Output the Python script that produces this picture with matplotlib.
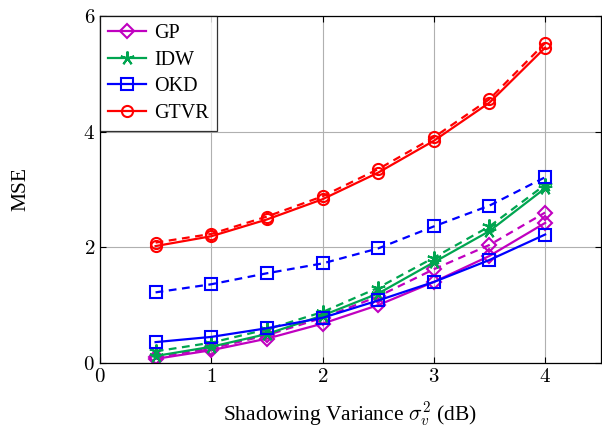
import numpy as np
import matplotlib
matplotlib.use('Agg')
import matplotlib.pyplot as plt

plt.rcParams['font.family'] = ['Liberation Serif', 'DejaVu Serif']
plt.rcParams['mathtext.fontset'] = 'cm'

x = [0.5, 1.0, 1.5, 2.0, 2.5, 3.0, 3.5, 4.0]

gp_solid = [0.07, 0.22, 0.42, 0.68, 1.00, 1.40, 1.85, 2.42]
gp_dash = [0.10, 0.25, 0.48, 0.78, 1.15, 1.62, 2.04, 2.60]
idw_solid = [0.12, 0.28, 0.50, 0.82, 1.20, 1.74, 2.28, 3.02]
idw_dash = [0.20, 0.35, 0.58, 0.88, 1.30, 1.82, 2.36, 3.08]
okd_solid = [0.36, 0.45, 0.60, 0.78, 1.08, 1.40, 1.78, 2.22]
okd_dash = [1.22, 1.36, 1.55, 1.72, 1.98, 2.36, 2.72, 3.21]
gtvr_solid = [2.02, 2.19, 2.48, 2.83, 3.29, 3.84, 4.50, 5.45]
gtvr_dash = [2.08, 2.23, 2.53, 2.88, 3.35, 3.90, 4.56, 5.53]

xticks = [0, 1, 2, 3, 4]
yticks = [0, 2, 4, 6]

series = [
    ('GP', gp_solid, gp_dash, '#C000C0', 'D', 7),
    ('IDW', idw_solid, idw_dash, '#00A550', (5, 2, 0), 10),
    ('OKD', okd_solid, okd_dash, '#0000FF', 's', 8),
    ('GTVR', gtvr_solid, gtvr_dash, '#FF0000', 'o', 8),
]

fig = plt.figure(figsize=(6.02, 4.28), dpi=100)
ax = fig.add_axes([0.166, 0.152, 0.832, 0.811])

for name, ys, yd, c, m, ms in series:
    ax.plot(x, ys, '-', color=c, lw=1.6, marker=m, ms=ms, mfc='none',
            mec=c, mew=1.5, label=name)
    ax.plot(x, yd, '--', color=c, lw=1.6, marker=m, ms=ms, mfc='none',
            mec=c, mew=1.5, dashes=(3.5, 2.5))

ax.set_xlim(0, 4.5)
ax.set_ylim(0, 6)
ax.set_xticks(xticks)
ax.set_xticklabels(['$%d$' % t for t in xticks])
ax.set_yticks(yticks)
ax.set_yticklabels(['$%d$' % t for t in yticks])
ax.grid(True, color='#b0b0b0', lw=0.8)
ax.set_axisbelow(True)
ax.tick_params(direction='in', top=True, right=True, labelsize=15, length=4)
for s in ax.spines.values():
    s.set_linewidth(0.9)

ax.set_xlabel(r'Shadowing Variance $\sigma_v^2$ (dB)', fontsize=15.5, labelpad=9)
ax.set_ylabel('MSE', fontsize=15.5, labelpad=38)

leg = ax.legend(loc='upper left', fontsize=14.5, frameon=True, fancybox=False,
                edgecolor='black', borderaxespad=0, handlelength=1.9,
                handletextpad=0.4, borderpad=0.4, labelspacing=0.38)
leg.get_frame().set_linewidth(0.9)

fig.savefig('out.png', dpi=100)
